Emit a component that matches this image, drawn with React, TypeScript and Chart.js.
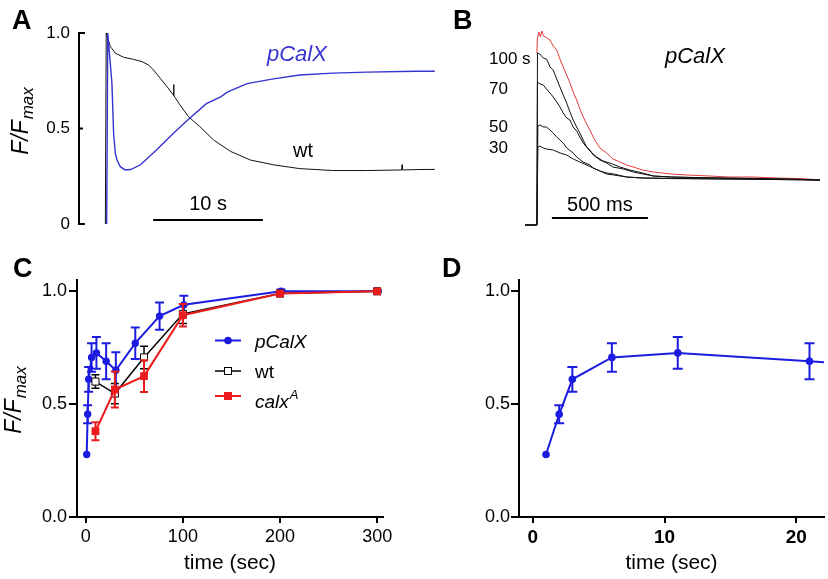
import React, { useEffect, useRef } from "react";
import { Chart, registerables } from "chart.js";

Chart.register(...registerables);

const FONT = "'Liberation Sans', Arial, Helvetica, sans-serif";
const BLUE = "#1c1ce0";
const TRACE_BLUE = "#3434d0";
const RED = "#ec1c1c";
const TRACE_RED = "#e23a3a";
const BLACK = "#111111";

// ---------- Panel A : F/Fmax traces (time in s) ----------
const aWtTime = [0, 0.08, 0.45, 0.91, 1.66, 2.57, 3.34, 3.94, 4.39, 5.0, 5.6, 6.2, 6.22, 6.25, 6.8, 7.57, 8.6, 9.85, 11.4, 13.2, 15.3, 17.7, 20.7, 23.8, 27.0, 27.02, 27.05, 28.4, 30.0];
const aWtValue = [0, 1.0, 0.93, 0.894, 0.873, 0.862, 0.85, 0.832, 0.806, 0.763, 0.72, 0.675, 0.73, 0.672, 0.623, 0.562, 0.51, 0.44, 0.38, 0.335, 0.31, 0.29, 0.28, 0.28, 0.283, 0.31, 0.283, 0.285, 0.286];
const aPcalxTime = [0.12, 0.22, 0.6, 0.75, 0.91, 1.06, 1.36, 1.8, 2.3, 3.2, 4.7, 6.2, 7.7, 9.2, 10.5, 11.1, 12.9, 15.3, 17.7, 20.7, 23.8, 28.3, 30.0];
const aPcalxValue = [0, 1.0, 0.735, 0.475, 0.37, 0.335, 0.3, 0.283, 0.285, 0.31, 0.39, 0.475, 0.555, 0.63, 0.666, 0.69, 0.735, 0.76, 0.78, 0.79, 0.795, 0.8, 0.8];
const aYTicks = [0, 0.5, 1];
const aScaleBarStart = 4.35; // s
const aScaleBarLength = 10; // s

// ---------- Panel B : traces at 30, 50, 70, 100 s (time in ms) ----------
const b30Time = [-62, 0, 5, 16, 33, 50, 85, 120, 155, 189, 224, 259, 293, 328, 363, 400, 467, 550, 700, 1000, 1474];
const b30Value = [0, 0, 0.39, 0.395, 0.385, 0.38, 0.375, 0.36, 0.35, 0.33, 0.315, 0.3, 0.285, 0.27, 0.255, 0.25, 0.24, 0.235, 0.232, 0.23, 0.225];
const b50Time = [-62, 0, 5, 16, 33, 50, 68, 85, 103, 137, 155, 189, 207, 241, 276, 293, 328, 363, 400, 467, 550, 800, 1000, 1474];
const b50Value = [0, 0, 0.495, 0.5, 0.49, 0.49, 0.475, 0.46, 0.44, 0.41, 0.385, 0.36, 0.34, 0.315, 0.3, 0.285, 0.27, 0.26, 0.255, 0.24, 0.235, 0.232, 0.23, 0.225];
const b70Time = [-62, 0, 3, 16, 33, 50, 68, 85, 103, 120, 137, 155, 172, 189, 207, 224, 241, 259, 276, 293, 328, 363, 396, 450, 502, 606, 700, 900, 1100, 1300, 1474];
const b70Value = [0, 0, 0.715, 0.705, 0.7, 0.68, 0.66, 0.64, 0.615, 0.59, 0.56, 0.535, 0.525, 0.49, 0.47, 0.44, 0.41, 0.39, 0.375, 0.35, 0.325, 0.31, 0.29, 0.28, 0.265, 0.245, 0.24, 0.235, 0.232, 0.23, 0.225];
const b100Time = [-62, 0, 3, 15, 33, 50, 60, 68, 85, 103, 120, 137, 155, 172, 189, 207, 224, 241, 259, 276, 311, 345, 380, 432, 484, 550, 606, 700, 800, 1000, 1200, 1474];
const b100Value = [0, 0, 0.86, 0.855, 0.835, 0.83, 0.81, 0.79, 0.775, 0.73, 0.69, 0.65, 0.61, 0.565, 0.525, 0.49, 0.46, 0.425, 0.39, 0.37, 0.34, 0.32, 0.31, 0.29, 0.275, 0.26, 0.245, 0.24, 0.238, 0.235, 0.232, 0.225];
const bMaxTime = [0, 2, 10, 18, 26, 34, 45, 68, 85, 103, 120, 137, 155, 172, 189, 207, 224, 241, 259, 276, 293, 311, 328, 363, 396, 432, 467, 502, 550, 606, 700, 781, 900, 1000, 1125, 1250, 1380, 1474];
const bMaxValue = [0.86, 0.93, 0.965, 0.94, 0.97, 0.945, 0.94, 0.925, 0.895, 0.875, 0.83, 0.79, 0.75, 0.71, 0.665, 0.625, 0.58, 0.54, 0.505, 0.475, 0.44, 0.41, 0.385, 0.36, 0.33, 0.315, 0.3, 0.29, 0.275, 0.265, 0.255, 0.25, 0.245, 0.24, 0.24, 0.235, 0.232, 0.225];
const bLabels = ["100 s", "70", "50", "30"];
const bScaleBarStart = 78; // ms
const bScaleBarLength = 500; // ms

// ---------- Panel C / D : recovery of F/Fmax ----------
const cPcalxTime = [1, 2, 3, 6, 11, 21, 31, 51, 76, 101, 201, 301];
const cPcalxMean = [0.277, 0.455, 0.61, 0.707, 0.727, 0.69, 0.65, 0.77, 0.89, 0.94, 1.0, 1.0];
const cPcalxSem = [0, 0.04, 0.055, 0.063, 0.07, 0.08, 0.08, 0.07, 0.06, 0.04, 0.008, 0];
const cWtTime = [10, 30, 60, 100, 200, 300];
const cWtMean = [0.6, 0.547, 0.707, 0.9, 0.99, 1.0];
const cWtSem = [0.03, 0.045, 0.05, 0.043, 0.005, 0];
const cCalxTime = [10, 30, 60, 100, 200, 300];
const cCalxMean = [0.38, 0.565, 0.624, 0.894, 0.99, 1.0];
const cCalxSem = [0.04, 0.08, 0.07, 0.05, 0.005, 0];
const cXTicks = [0, 100, 200, 300];
const dXTicks = [0, 10, 20];
const cdYTicks = [0, 0.5, 1];

const pts = (xs: number[], ys: number[]) => xs.map((x, i) => ({ x, y: ys[i] }));

function drawText(ctx: CanvasRenderingContext2D, s: string, x: number, y: number, font: string, color = "#000", align: CanvasTextAlign = "left") {
  ctx.save();
  ctx.font = font;
  ctx.fillStyle = color;
  ctx.textAlign = align;
  ctx.textBaseline = "alphabetic";
  ctx.fillText(s, x, y);
  ctx.restore();
}

function drawYTitle(ctx: CanvasRenderingContext2D, baseX: number, cy: number) {
  ctx.save();
  ctx.translate(baseX, cy);
  ctx.rotate(-Math.PI / 2);
  const big = `italic 23px ${FONT}`;
  const small = `italic 17px ${FONT}`;
  ctx.font = big;
  const w1 = ctx.measureText("F/F").width;
  ctx.font = small;
  const w2 = ctx.measureText("max").width;
  const start = -(w1 + w2 + 1) / 2;
  ctx.fillStyle = "#000";
  ctx.textBaseline = "alphabetic";
  ctx.textAlign = "left";
  ctx.font = big;
  ctx.fillText("F/F", start, 0);
  ctx.font = small;
  ctx.fillText("max", start + w1 + 1, 5);
  ctx.restore();
}

function line(ctx: CanvasRenderingContext2D, x1: number, y1: number, x2: number, y2: number, color: string, w: number) {
  ctx.save();
  ctx.strokeStyle = color;
  ctx.lineWidth = w;
  ctx.beginPath();
  ctx.moveTo(x1, y1);
  ctx.lineTo(x2, y2);
  ctx.stroke();
  ctx.restore();
}

// error bars drawn just before each dataset so markers sit on top
const errorBarPlugin = {
  id: "errorBars",
  beforeDatasetDraw(chart: any, args: any) {
    const ds = chart.data.datasets[args.index];
    if (!ds.errors) return;
    const meta = args.meta;
    const y = chart.scales.y;
    const ctx = chart.ctx;
    const ca = chart.chartArea;
    ctx.save();
    ctx.beginPath();
    ctx.rect(ca.left - 6, ca.top - 10, ca.right - ca.left + 12, ca.bottom - ca.top + 20);
    ctx.clip();
    ctx.strokeStyle = ds.borderColor;
    ctx.lineWidth = ds.errorWidth || 2;
    const cap = ds.capHalf || 4;
    ds.data.forEach((p: any, i: number) => {
      const e = ds.errors[i];
      if (!e) return;
      const px = meta.data[i].x;
      const yt = y.getPixelForValue(p.y + e);
      const yb = y.getPixelForValue(p.y - e);
      ctx.beginPath();
      ctx.moveTo(px, yt);
      ctx.lineTo(px, yb);
      ctx.moveTo(px - cap, yt);
      ctx.lineTo(px + cap, yt);
      ctx.moveTo(px - cap, yb);
      ctx.lineTo(px + cap, yb);
      ctx.stroke();
    });
    ctx.restore();
  },
};

const baseOpts = {
  animation: false,
  responsive: false,
  devicePixelRatio: 1,
  events: [],
  plugins: { legend: { display: false }, tooltip: { enabled: false } },
};

function makeA() {
  const annot = {
    id: "annotA",
    afterDraw(chart: any) {
      const ctx = chart.ctx;
      const ca = chart.chartArea;
      const y = chart.scales.y;
      const x = chart.scales.x;
      aYTicks.forEach((v) => {
        const py = y.getPixelForValue(v);
        line(ctx, ca.left - 1, py, ca.left + (v === 0.5 ? 4 : 6), py, "#000", 2);
      });
      drawYTitle(ctx, 28, 121);
      drawText(ctx, "A", 12, 29, `bold 27px ${FONT}`);
      drawText(ctx, "pCalX", 267, 61, `italic 22px ${FONT}`, TRACE_BLUE);
      drawText(ctx, "wt", 293, 157, `20px ${FONT}`);
      const x1 = x.getPixelForValue(aScaleBarStart);
      const x2 = x.getPixelForValue(aScaleBarStart + aScaleBarLength);
      line(ctx, x1, 220, x2, 220, "#000", 2);
      drawText(ctx, "10 s", (x1 + x2) / 2, 210, `20px ${FONT}`, "#000", "center");
    },
  };
  return {
    type: "line",
    data: {
      datasets: [
        { data: pts(aPcalxTime, aPcalxValue), borderColor: TRACE_BLUE, borderWidth: 1.4, pointRadius: 0, tension: 0, clip: false },
        { data: pts(aWtTime, aWtValue), borderColor: BLACK, borderWidth: 1, pointRadius: 0, tension: 0, clip: false },
      ],
    },
    options: {
      ...baseOpts,
      layout: { padding: { left: 0, top: 33, right: 3, bottom: 26 } },
      scales: {
        x: { type: "linear", min: -2.4, max: 30.2, display: false },
        y: {
          type: "linear",
          min: 0,
          max: 1,
          afterFit: (s: any) => { s.width = 79; },
          afterBuildTicks: (s: any) => { s.ticks = aYTicks.map((v) => ({ value: v })); },
          grid: { display: false, drawTicks: false },
          border: { display: true, color: "#000", width: 2 },
          ticks: { color: "#000", font: { family: FONT, size: 17 }, padding: 9, callback: (v: any) => (v === 0 ? "0" : Number(v).toFixed(1)) },
        },
      },
    },
    plugins: [annot],
  };
}

function makeB() {
  const annot = {
    id: "annotB",
    afterDraw(chart: any) {
      const ctx = chart.ctx;
      const x = chart.scales.x;
      drawText(ctx, "B", 13, 29, `bold 27px ${FONT}`);
      const ys = [64, 94, 132, 153];
      bLabels.forEach((s, i) => drawText(ctx, s, 49, ys[i], `17px ${FONT}`));
      drawText(ctx, "pCalX", 225, 63, `italic 22px ${FONT}`);
      const x1 = x.getPixelForValue(bScaleBarStart);
      const x2 = x.getPixelForValue(bScaleBarStart + bScaleBarLength);
      line(ctx, x1, 218, x2, 218, "#000", 2);
      drawText(ctx, "500 ms", (x1 + x2) / 2, 211, `20px ${FONT}`, "#000", "center");
    },
  };
  const tr = (xs: number[], ys: number[], c: string) => ({ data: pts(xs, ys), borderColor: c, borderWidth: 1, pointRadius: 0, tension: 0, clip: false });
  return {
    type: "line",
    data: {
      datasets: [
        tr(b100Time, b100Value, BLACK),
        tr(b70Time, b70Value, BLACK),
        tr(b50Time, b50Value, BLACK),
        tr(b30Time, b30Value, BLACK),
        tr(bMaxTime, bMaxValue, TRACE_RED),
      ],
    },
    options: {
      ...baseOpts,
      layout: { padding: { left: 85, top: 25, right: 8, bottom: 25 } },
      scales: {
        x: { type: "linear", min: -62, max: 1474, display: false },
        y: { type: "linear", min: 0, max: 1, display: false },
      },
    },
    plugins: [annot],
  };
}

function cdScales(xMin: number, xMax: number, xTicks: number[], yWidth: number, bold: boolean, yPad: number) {
  return {
    x: {
      type: "linear",
      min: xMin,
      max: xMax,
      afterFit: (s: any) => { s.height = 62; },
      afterBuildTicks: (s: any) => { s.ticks = xTicks.map((v) => ({ value: v })); },
      grid: { display: true, drawOnChartArea: false, drawTicks: true, tickLength: 6, color: "#000", lineWidth: 2 },
      border: { display: true, color: "#000", width: 2 },
      ticks: { color: "#000", font: { family: FONT, size: bold ? 19 : 18, weight: bold ? "bold" : "normal" }, padding: 3, maxRotation: 0 },
      title: { display: true, text: "time (sec)", color: "#000", font: { family: FONT, size: 21 }, padding: { top: 0, bottom: 3 } },
    },
    y: {
      type: "linear",
      min: 0,
      max: 1.05,
      afterFit: (s: any) => { s.width = yWidth; },
      afterBuildTicks: (s: any) => { s.ticks = cdYTicks.map((v) => ({ value: v })); },
      grid: { display: true, drawOnChartArea: false, drawTicks: true, tickLength: 8, color: "#000", lineWidth: 2 },
      border: { display: true, color: "#000", width: 2 },
      ticks: { color: "#000", font: { family: FONT, size: 18 }, padding: yPad, callback: (v: any) => Number(v).toFixed(1) },
    },
  };
}

const pcalxDataset = (r: number, cap: number) => ({
  data: pts(cPcalxTime, cPcalxMean),
  errors: cPcalxSem,
  capHalf: cap,
  errorWidth: 2,
  borderColor: BLUE,
  backgroundColor: BLUE,
  borderWidth: 2,
  pointRadius: r,
  pointStyle: "circle",
  pointBorderWidth: 0,
  tension: 0,
});

function makeC() {
  const annot = {
    id: "annotC",
    afterDraw(chart: any) {
      const ctx = chart.ctx;
      drawText(ctx, "C", 13, 27, `bold 27px ${FONT}`);
      drawYTitle(ctx, 21, 150);
      const lx1 = 215, lx2 = 241, mx = 228;
      let ly = 90.5;
      line(ctx, lx1, ly, lx2, ly, BLUE, 2);
      ctx.save();
      ctx.fillStyle = BLUE;
      ctx.beginPath();
      ctx.arc(mx, ly, 3.8, 0, Math.PI * 2);
      ctx.fill();
      ctx.restore();
      drawText(ctx, "pCalX", 255, ly + 7, `italic 19px ${FONT}`);
      ly = 121;
      line(ctx, lx1, ly, lx2, ly, "#000", 1.5);
      ctx.save();
      ctx.fillStyle = "#fff";
      ctx.strokeStyle = "#000";
      ctx.lineWidth = 1;
      ctx.fillRect(mx - 3.5, ly - 3.5, 7, 7);
      ctx.strokeRect(mx - 3.5, ly - 3.5, 7, 7);
      ctx.restore();
      drawText(ctx, "wt", 255, ly + 7, `19px ${FONT}`);
      ly = 146;
      line(ctx, lx1, ly, lx2, ly, RED, 2);
      ctx.save();
      ctx.fillStyle = RED;
      ctx.fillRect(mx - 4, ly - 4, 8, 8);
      ctx.restore();
      drawText(ctx, "calx", 255, ly + 12, `italic 19px ${FONT}`);
      ctx.save();
      ctx.font = `italic 19px ${FONT}`;
      const w = ctx.measureText("calx").width;
      ctx.restore();
      drawText(ctx, "A", 255 + w + 1, ly + 3, `italic 13px ${FONT}`);
    },
  };
  return {
    type: "line",
    data: {
      datasets: [
        { data: pts(cCalxTime, cCalxMean), errors: cCalxSem, capHalf: 4, errorWidth: 2, borderColor: RED, backgroundColor: RED, borderWidth: 2, pointRadius: 5.5, pointStyle: "rect", pointBorderWidth: 0, tension: 0 },
        { data: pts(cWtTime, cWtMean), errors: cWtSem, capHalf: 4, errorWidth: 1.5, borderColor: "#000", backgroundColor: "#fff", borderWidth: 1.5, pointRadius: 5, pointStyle: "rect", pointBorderWidth: 1, tension: 0 },
        pcalxDataset(3.7, 4.5),
      ],
    },
    options: {
      ...baseOpts,
      layout: { padding: { left: 0, top: 30, right: 37, bottom: 0 } },
      scales: cdScales(-9, 306, cXTicks, 77, false, 2),
    },
    plugins: [errorBarPlugin, annot],
  };
}

function makeD() {
  const annot = {
    id: "annotD",
    afterDraw(chart: any) {
      drawText(chart.ctx, "D", 22, 27, `bold 27px ${FONT}`);
    },
  };
  return {
    type: "line",
    data: { datasets: [pcalxDataset(3.8, 5)] },
    options: {
      ...baseOpts,
      layout: { padding: { left: 0, top: 30, right: 1, bottom: 0 } },
      scales: cdScales(-1.05, 22.1, dXTicks, 99, true, 1),
    },
    plugins: [errorBarPlugin, annot],
  };
}

function ChartCanvas({ left, top, width, height, make }: { left: number; top: number; width: number; height: number; make: () => any }) {
  const ref = useRef<HTMLCanvasElement>(null);
  useEffect(() => {
    const chart = new Chart(ref.current as HTMLCanvasElement, make());
    return () => chart.destroy();
  }, [make]);
  return <canvas ref={ref} width={width} height={height} style={{ position: "absolute", left, top, width, height, display: "block" }} />;
}

export default function App() {
  return (
    <div style={{ position: "absolute", left: 0, top: 0, width: 828, height: 579, background: "#fff", overflow: "hidden" }}>
      <ChartCanvas left={0} top={0} width={440} height={250} make={makeA} />
      <ChartCanvas left={440} top={0} width={388} height={250} make={makeB} />
      <ChartCanvas left={0} top={250} width={420} height={329} make={makeC} />
      <ChartCanvas left={420} top={250} width={408} height={329} make={makeD} />
    </div>
  );
}
